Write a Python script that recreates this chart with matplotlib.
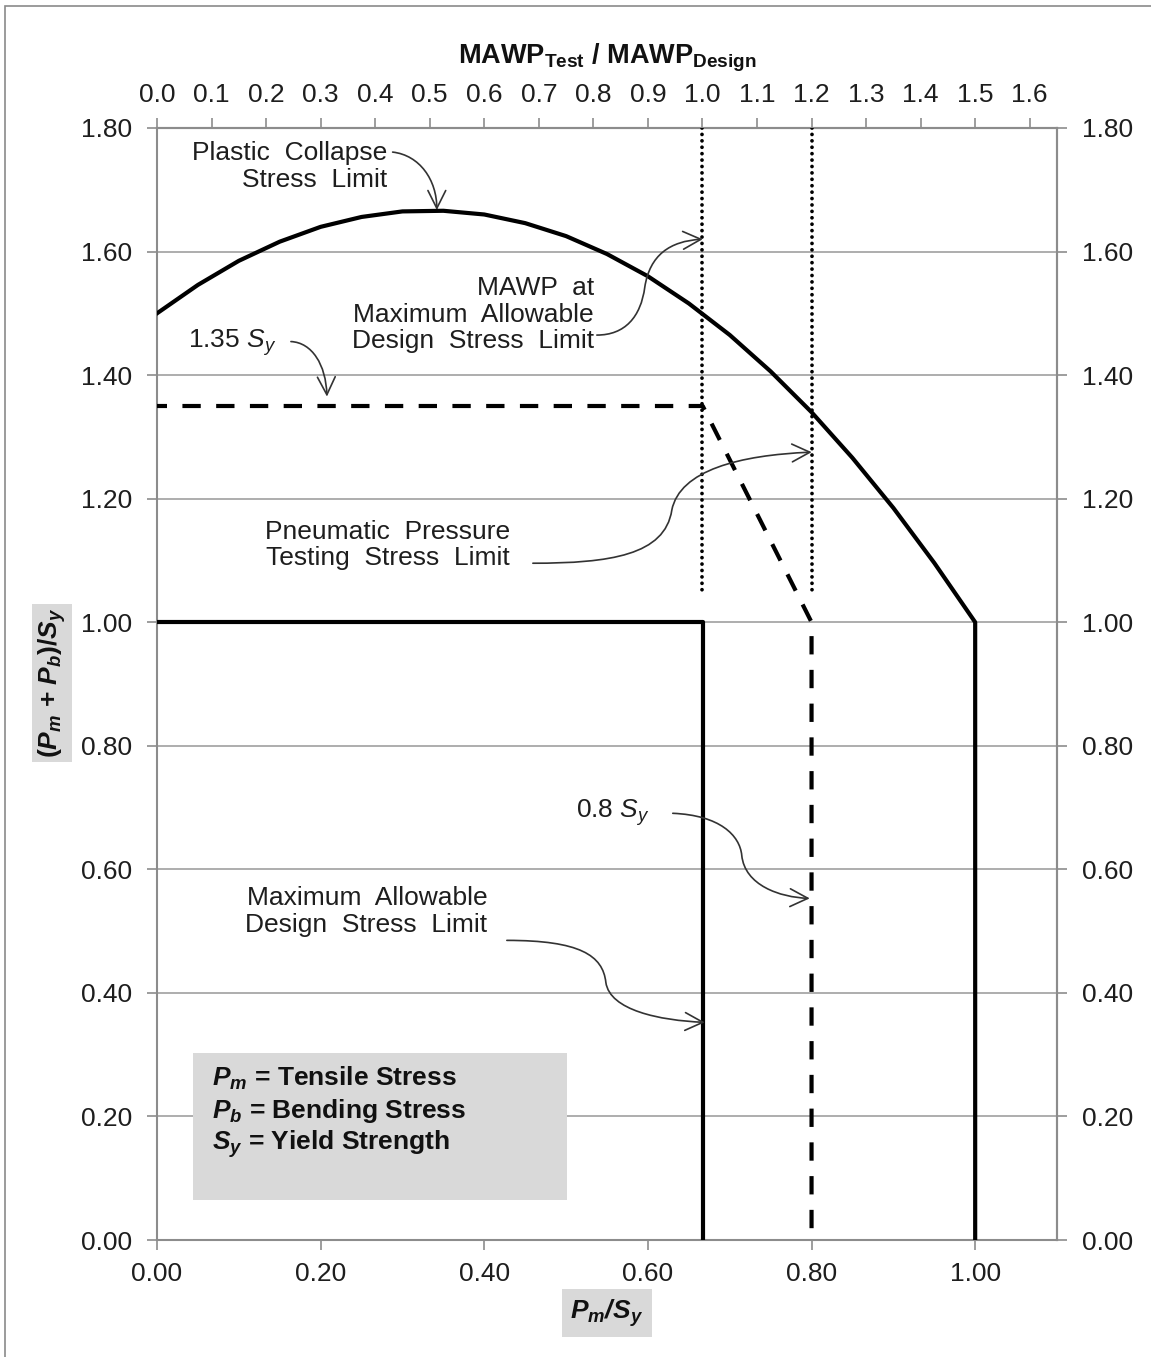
import numpy as np
import matplotlib
matplotlib.use('Agg')
import matplotlib.pyplot as plt
from matplotlib.path import Path
from matplotlib.patches import FancyArrowPatch, Rectangle

plt.rcParams['font.family'] = ['Liberation Sans', 'DejaVu Sans']
plt.rcParams['mathtext.fontset'] = 'custom'
plt.rcParams['mathtext.rm'] = 'Liberation Sans'
plt.rcParams['mathtext.it'] = 'Liberation Sans:italic'
plt.rcParams['mathtext.bf'] = 'Liberation Sans:bold'
plt.rcParams['mathtext.bfit'] = 'Liberation Sans:italic:bold'

# Pm/Sy values and the limit curves
pm_sy = [0.0, 0.05, 0.1, 0.15, 0.2, 0.25, 0.3, 0.35, 0.4, 0.45, 0.5,
         0.55, 0.6, 0.65, 0.7, 0.75, 0.8, 0.85, 0.9, 0.95, 1.0, 1.0]
collapse = [1.50, 1.546, 1.585, 1.616, 1.64, 1.656, 1.665, 1.666, 1.66, 1.646, 1.625,
            1.596, 1.56, 1.516, 1.465, 1.406, 1.34, 1.266, 1.185, 1.096, 1.00, 0.00]

design_x = [0.0, 0.667, 0.667]
design_y = [1.00, 1.00, 0.00]

pneu_x = [0.0, 0.667, 0.8, 0.8]
pneu_y = [1.35, 1.35, 1.00, 0.00]

# MAWP test / design ratios marked with dotted lines
mawp_marks = [1.0, 1.2]
mawp_scale = 1.5          # MAWP ratio 1.5 <-> Pm/Sy 1.0
dotted_bottom = 1.05

x_ticks = [0.0, 0.2, 0.4, 0.6, 0.8, 1.0]
y_ticks = [0.0, 0.2, 0.4, 0.6, 0.8, 1.0, 1.2, 1.4, 1.6, 1.8]
top_ticks = [0.0, 0.1, 0.2, 0.3, 0.4, 0.5, 0.6, 0.7, 0.8, 0.9, 1.0,
             1.1, 1.2, 1.3, 1.4, 1.5, 1.6]

W, H = 1151, 1357
fig = plt.figure(figsize=(W / 100, H / 100), dpi=100)
fig.patches.append(Rectangle((5 / W, -0.2), 1.3, 1.2 - 6 / H, transform=fig.transFigure,
                             fill=False, ec='#8a8a8a', lw=1.2))
ax = fig.add_axes([157 / W, 1 - 1240 / H, 900 / W, 1112 / H])

spine_c = '#8c8c8c'
lab_c = '#1e1e1e'
ax.set_xlim(0, 1.1)
ax.set_ylim(0, 1.8)
ax.set_xticks(x_ticks)
ax.set_xticklabels([f'{v:.2f}' for v in x_ticks])
ax.set_yticks(y_ticks)
ax.set_yticklabels([f'{v:.2f}' for v in y_ticks])
ax.yaxis.grid(True, color='#a0a0a0', lw=1.2)
ax.set_axisbelow(True)
for s in ax.spines.values():
    s.set_color(spine_c)
    s.set_linewidth(1.5)
ax.tick_params(direction='out', length=7, width=1.2, color=spine_c,
               labelsize=19, labelcolor=lab_c)
ax.tick_params(axis='y', pad=11)
ax.tick_params(axis='x', pad=9)

sec_y = ax.secondary_yaxis('right')
sec_y.set_yticks(y_ticks)
sec_y.set_yticklabels([f'{v:.2f}' for v in y_ticks])
sec_y.spines['right'].set_color(spine_c)
sec_y.spines['right'].set_linewidth(1.5)
sec_y.tick_params(direction='out', length=7, width=1.2, color=spine_c,
                  labelsize=19, labelcolor=lab_c, pad=11)

top = ax.secondary_xaxis('top', functions=(lambda x: x * mawp_scale,
                                           lambda t: t / mawp_scale))
top.set_xticks(top_ticks)
top.set_xticklabels([f'{v:.1f}' for v in top_ticks])
top.spines['top'].set_color(spine_c)
top.spines['top'].set_linewidth(1.5)
top.tick_params(direction='out', length=7, width=1.2, color=spine_c,
                labelsize=19, labelcolor=lab_c, pad=8)

# limit lines
ax.plot(pm_sy, collapse, color='black', lw=3.0, zorder=3)
ax.plot(design_x, design_y, color='black', lw=3.0, zorder=3)
ax.plot(pneu_x, pneu_y, color='black', lw=3.0, ls=(2, (4.4, 3.7)), zorder=3)
for m in mawp_marks:
    ax.plot([m / mawp_scale, m / mawp_scale], [1.8, dotted_bottom], color='black',
            lw=2.7, ls=(0, (0.01, 1.7)), dash_capstyle='round', zorder=3)

# legend box
ax.add_patch(Rectangle((0.044, 0.065), 0.457, 0.237, fc='#d9d9d9', ec='none', zorder=2))
legend_lines = [r'$\mathbfit{P_m}$ = Tensile Stress',
                r'$\mathbfit{P_b}$ = Bending Stress',
                r'$\mathbfit{S_y}$ = Yield Strength']
for i, t in enumerate(legend_lines):
    ax.text(0.067, 0.262 - i * 0.0535, t, fontsize=19, fontweight='bold',
            color='#111111', va='center', ha='left', zorder=4)

# annotations
ann_kw = dict(fontsize=19, color=lab_c, zorder=4)
ax.text(0.281, 1.738, 'Plastic  Collapse\nStress  Limit', ha='right', va='center',
        multialignment='right', linespacing=1.15, **ann_kw)
ax.text(0.534, 1.498, 'MAWP  at\nMaximum  Allowable\nDesign  Stress  Limit', ha='right',
        va='center', multialignment='right', linespacing=1.15, **ann_kw)
ax.text(0.038, 1.452, '1.35 $S_y$', ha='left', va='center', **ann_kw)
ax.text(0.431, 1.125, 'Pneumatic  Pressure\nTesting  Stress  Limit', ha='right',
        va='center', multialignment='right', linespacing=1.15, **ann_kw)
ax.text(0.512, 0.691, '0.8 $S_y$', ha='left', va='center', **ann_kw)
ax.text(0.404, 0.532, 'Maximum  Allowable\nDesign  Stress  Limit', ha='right',
        va='center', multialignment='right', linespacing=1.15, **ann_kw)

C4 = Path.CURVE4
arrows = [
    ([(0.288, 1.761), (0.321, 1.756), (0.342, 1.716), (0.342, 1.667)],
     [Path.MOVETO, C4, C4, C4]),
    ([(0.1637, 1.4543), (0.1894, 1.4527), (0.2065, 1.417), (0.2077, 1.3652)],
     [Path.MOVETO, C4, C4, C4]),
    ([(0.5376, 1.4648), (0.5718, 1.4648), (0.5913, 1.4939), (0.5962, 1.5425),
      (0.6023, 1.5943), (0.6268, 1.617), (0.667, 1.620)],
     [Path.MOVETO, C4, C4, C4, C4, C4, C4]),
    ([(0.4594, 1.0955), (0.5535, 1.0955), (0.6207, 1.1085), (0.6292, 1.1814),
      (0.639, 1.2462), (0.7123, 1.2705), (0.8002, 1.2753)],
     [Path.MOVETO, C4, C4, C4, C4, C4, C4]),
    ([(0.6304, 0.6907), (0.6878, 0.6875), (0.7123, 0.6551), (0.7147, 0.6227),
      (0.7184, 0.5741), (0.7612, 0.5547), (0.7978, 0.553)],
     [Path.MOVETO, C4, C4, C4, C4, C4, C4]),
    ([(0.4276, 0.485), (0.5168, 0.485), (0.5449, 0.4607), (0.5486, 0.417),
      (0.5535, 0.3717), (0.6145, 0.3555), (0.6695, 0.3523)],
     [Path.MOVETO, C4, C4, C4, C4, C4, C4]),
]
for verts, codes in arrows:
    ax.add_patch(FancyArrowPatch(path=Path(verts, codes), transform=ax.transData,
                                 arrowstyle='->,head_length=0.8,head_width=0.4',
                                 mutation_scale=16, lw=1.2, color='#333333', zorder=4))

# axis titles
fig.text(607 / W, 1 - 63 / H, r'MAWP$_{\mathbf{Test}}$ / MAWP$_{\mathbf{Design}}$',
         fontsize=19.5, fontweight='bold', ha='center', va='baseline', color='#111111')
fig.text(607 / W, 1 - 1313 / H, r'$\mathbfit{P_m/S_y}$', fontsize=19, ha='center',
         va='center', color='#111111',
         bbox=dict(boxstyle='square,pad=0.3', fc='#d9d9d9', ec='none'))
fig.text(52 / W, 1 - 683 / H, r'($\mathbfit{P_m}$ + $\mathbfit{P_b}$)/$\mathbfit{S_y}$',
         fontsize=19, fontweight='bold', rotation=90, ha='center', va='center',
         color='#111111', bbox=dict(boxstyle='square,pad=0.15', fc='#d9d9d9', ec='none'))

fig.savefig('out.png', dpi=100)
